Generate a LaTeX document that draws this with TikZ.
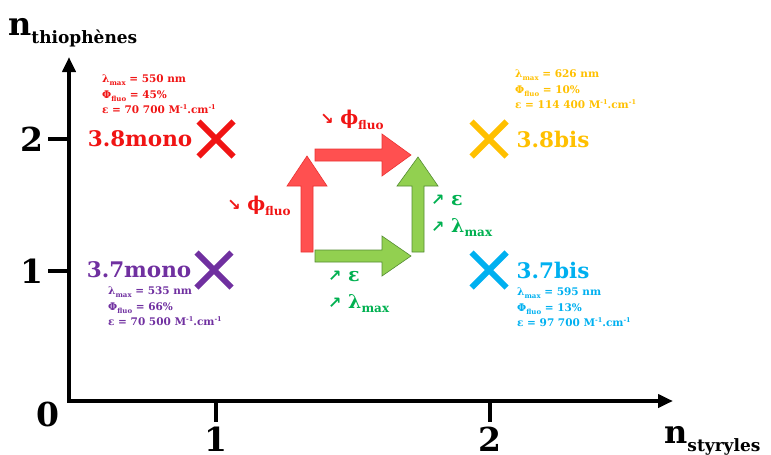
\documentclass[tikz,border=0pt]{standalone}
\usepackage{fontspec}
\setmainfont{DejaVu Serif}
\newfontfamily\flechefont{DejaVu Sans}
\usetikzlibrary{positioning,shapes.misc,arrows.meta}
\definecolor{rouge}{RGB}{240,20,20}
\definecolor{or}{RGB}{255,192,0}
\definecolor{violet}{RGB}{112,48,160}
\definecolor{bleu}{RGB}{0,176,240}
\definecolor{textevert}{RGB}{0,176,80}
\definecolor{flrouge}{RGB}{255,80,80}
\definecolor{flrougebord}{RGB}{235,50,50}
\definecolor{flvert}{RGB}{146,208,80}
\definecolor{flvertbord}{RGB}{84,140,50}
\newcommand{\indice}[2]{\raisebox{-0.25em}{\fontsize{#1}{#1}\selectfont #2}}
\newcommand{\expo}[1]{\raisebox{0.4em}{\fontsize{6.5}{6.5}\selectfont #1}}
\newcommand{\monte}{{\flechefont\fontsize{16}{16}\selectfont ↗}}
\newcommand{\baisse}{{\flechefont\fontsize{16}{16}\selectfont ↘}}
\begin{document}
\begin{tikzpicture}[x=1pt, y=-1pt, >={Triangle[length=15pt, width=13pt]},
  axe/.style={line width=4.5pt, line join=miter},
  graduation/.style={line width=4pt},
  chiffre/.style={font=\fontsize{33}{33}\selectfont\bfseries, inner sep=0pt},
  titre/.style={font=\fontsize{32}{32}\selectfont\bfseries, inner sep=0pt, anchor=base west},
  croix/.style={cross out, draw, line width=6pt, minimum size=29pt, inner sep=0pt},
  nom/.style={font=\fontsize{21.5}{24}\selectfont\bfseries, inner sep=0pt},
  donnees/.style={font=\fontsize{10.5}{15.5}\selectfont\bfseries, align=left, inner sep=0pt, anchor=north west},
  effet/.style={font=\fontsize{19}{27}\selectfont\bfseries, align=left, inner sep=0pt},
  blocrouge/.style={fill=flrouge, draw=flrougebord, line width=0.6pt},
  blocvert/.style={fill=flvert, draw=flvertbord, line width=0.6pt}]
  \useasboundingbox (0,0) rectangle (771,455);
  % axes
  \coordinate (O) at (69,401);
  \coordinate (ybout) at (69,57);
  \coordinate (xbout) at (673,401);
  \draw[axe, <->] (ybout) -- (O) -- (xbout);
  \node[titre] (ny) at (8,35) {n\indice{17}{thiophènes}};
  \node[titre] (nx) at (664,443) {n\indice{17}{styryles}};
  % graduations
  \coordinate (y1) at (69,271);
  \coordinate (y2) at (69,139);
  \coordinate (x1) at (216,401);
  \coordinate (x2) at (490,401);
  \draw[graduation] (y1) -- ++(-21,0) coordinate (y1g);
  \draw[graduation] (y2) -- ++(-21,0) coordinate (y2g);
  \draw[graduation] (x1) -- ++(0,21) coordinate (x1g);
  \draw[graduation] (x2) -- ++(0,21) coordinate (x2g);
  \node[chiffre, left=4pt of y1g] (c1y) {1};
  \node[chiffre, left=4pt of y2g] (c2y) {2};
  \node[chiffre, below=5pt of x1g] (c1x) {1};
  \node[chiffre, below=5pt of x2g] (c2x) {2};
  \node[chiffre, below left=1pt and 9pt of O] (c0) {0};
  % les quatre composes
  \node[croix, draw=rouge] (x38mono) at (216,139) {};
  \node[nom, rouge, left=6pt of x38mono] (n38mono) {3.8mono};
  \node[croix, draw=or] (x38bis) at (489,139) {};
  \node[nom, or, right=10pt of x38bis] (n38bis) {3.8bis};
  \node[croix, draw=violet] (x37mono) at (214,270) {};
  \node[nom, violet, left=5pt of x37mono] (n37mono) {3.7mono};
  \node[croix, draw=bleu] (x37bis) at (489,270) {};
  \node[nom, bleu, right=10pt of x37bis] (n37bis) {3.7bis};
  \node[donnees, rouge] (d38mono) at (102,75)
    {λ\indice{7}{max} = 550 nm\\Φ\indice{7}{fluo} = 45\%\\ε = 70 700 M\expo{-1}.cm\expo{-1}};
  \node[donnees, or] (d38bis) at (515,70)
    {λ\indice{7}{max} = 626 nm\\Φ\indice{7}{fluo} = 10\%\\ε = 114 400 M\expo{-1}.cm\expo{-1}};
  \node[donnees, violet] (d37mono) at (108,287)
    {λ\indice{7}{max} = 535 nm\\Φ\indice{7}{fluo} = 66\%\\ε = 70 500 M\expo{-1}.cm\expo{-1}};
  \node[donnees, bleu] (d37bis) at (517,288)
    {λ\indice{7}{max} = 595 nm\\Φ\indice{7}{fluo} = 13\%\\ε = 97 700 M\expo{-1}.cm\expo{-1}};
  % fleches du cycle
  \filldraw[blocrouge] (301,252) -- (301,186) -- (287,186) -- (307,156) -- (327,186) -- (313,186) -- (313,252) -- cycle;
  \filldraw[blocrouge] (315,149) -- (382,149) -- (382,134) -- (411,155) -- (382,176) -- (382,161) -- (315,161) -- cycle;
  \filldraw[blocvert] (315,250) -- (382,250) -- (382,236) -- (411,256) -- (382,276) -- (382,262) -- (315,262) -- cycle;
  \filldraw[blocvert] (412,252) -- (412,186) -- (397,186) -- (418,157) -- (438,186) -- (424,186) -- (424,252) -- cycle;
  \node[effet, rouge] (ehaut) at (352,120) {\baisse\ ϕ\indice{12}{fluo}};
  \node[effet, rouge] (egauche) at (259,206) {\baisse\ ϕ\indice{12}{fluo}};
  \node[effet, textevert, anchor=west] (edroite) at (431,216) {\monte\ ε\\\monte\ λ\indice{12}{max}};
  \node[effet, textevert, anchor=west] (ebas) at (328,292) {\monte\ ε\\\monte\ λ\indice{12}{max}};
\end{tikzpicture}
\end{document}
